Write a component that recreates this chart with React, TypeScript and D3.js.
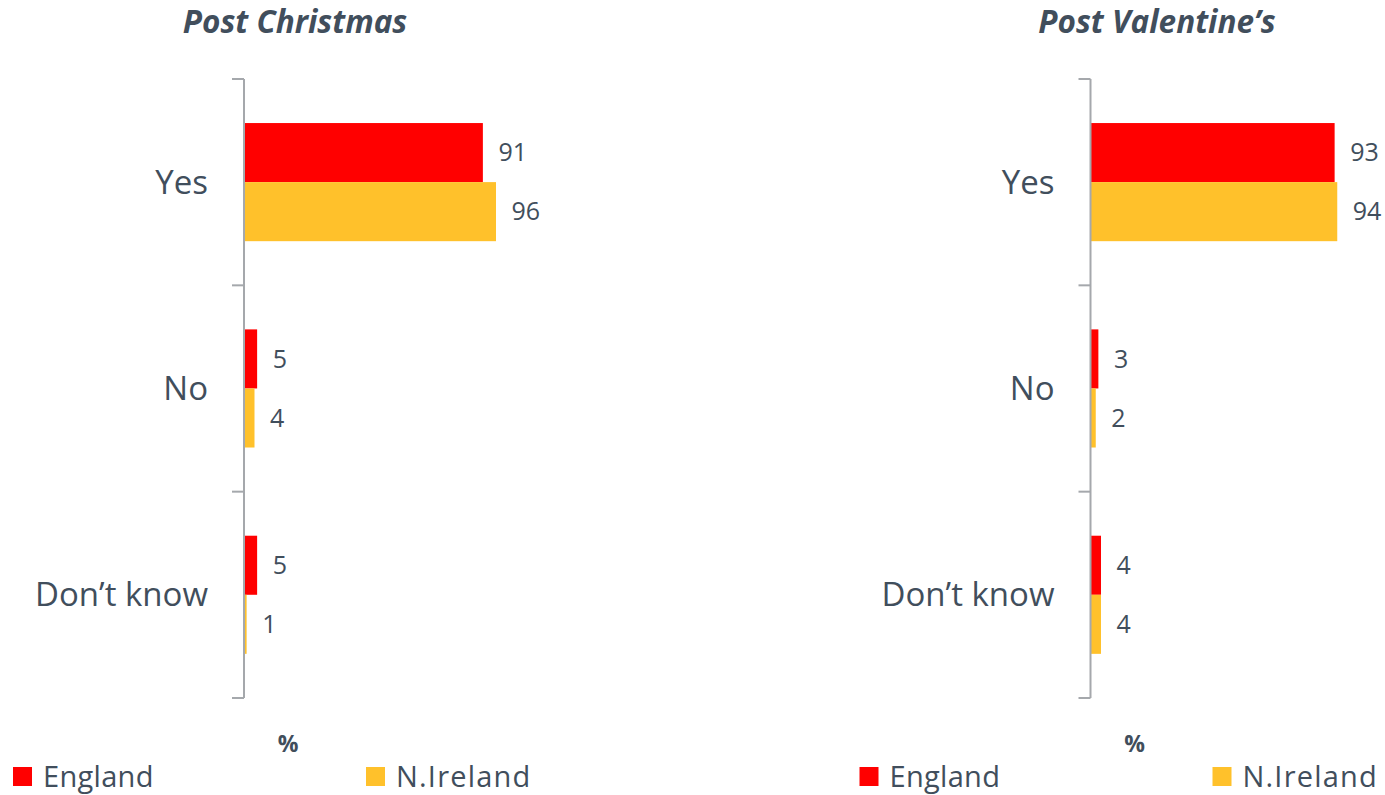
import React from "react";
import * as d3 from "d3";

const categories = ["Yes", "No", "Don’t know"];
const seriesNames = ["England", "N.Ireland"];
const christmasEngland = [91, 5, 5];
const christmasNI = [96, 4, 1];
const valentineEngland = [93, 3, 4];
const valentineNI = [94, 2, 4];
const panelTitles = ["Post Christmas", "Post Valentine’s"];
const unitLabel = "%";

const COLORS = ["#FF0000", "#FFC12B"];
const TEXT = "#414E5C";
const AXIS = "#A5A8AC";
const FONT = "'Open Sans', sans-serif";

type PanelProps = { ox: number; titleX: number; title: string; a: number[]; b: number[] };

function Panel({ ox, titleX, title, a, b }: PanelProps) {
  const axisX = ox;
  const x = d3.scaleLinear().domain([0, 100]).range([axisX, axisX + 262.5]);
  const y = d3.scaleBand<string>().domain(categories).range([79, 698]).padding(0);
  const bw = y.bandwidth();
  const inner = d3
    .scaleBand<string>()
    .domain(seriesNames)
    .range([bw * 0.2135, bw * 0.786])
    .padding(0);
  const vals = [a, b];
  const tickYs = [...categories.map((c) => y(c) as number), 698];
  return (
    <g>
      <text
        x={titleX}
        y={33}
        textAnchor="middle"
        fontFamily={FONT}
        fontWeight={700}
        fontStyle="italic"
        fontSize={31.5}
        fill={TEXT}
      >
        {title}
      </text>
      {seriesNames.map((s, si) =>
        categories.map((c, ci) => {
          const v = vals[si][ci];
          const yy = (y(c) as number) + (inner(s) as number);
          const h = inner.bandwidth();
          return (
            <g key={s + c}>
              <rect x={x(0)} y={yy} width={x(v) - x(0)} height={h} fill={COLORS[si]} />
              <text
                x={x(v) + 15.5}
                y={yy + h / 2}
                dy="0.35em"
                fontFamily={FONT}
                fontSize={25}
                fill={TEXT}
              >
                {v}
              </text>
            </g>
          );
        })
      )}
      <line x1={axisX} x2={axisX} y1={79} y2={698} stroke={AXIS} strokeWidth={2} />
      {tickYs.map((t, i) => (
        <line key={i} x1={axisX - 12} x2={axisX} y1={t} y2={t} stroke={AXIS} strokeWidth={2} />
      ))}
      {categories.map((c) => (
        <text
          key={c}
          x={axisX - 36}
          y={(y(c) as number) + bw / 2}
          dy="0.35em"
          textAnchor="end"
          fontFamily={FONT}
          fontSize={33}
          fill={TEXT}
        >
          {c}
        </text>
      ))}
      <text
        x={axisX + 44}
        y={752}
        textAnchor="middle"
        fontFamily={FONT}
        fontWeight={700}
        fontSize={23}
        fill={TEXT}
      >
        {unitLabel}
      </text>
      {seriesNames.map((s, si) => (
        <g key={s} transform={`translate(${axisX - 231 + si * 353},0)`}>
          <rect x={0} y={767} width={19} height={19} fill={COLORS[si]} />
          <text
            x={30}
            y={787}
            fontFamily={FONT}
            fontSize={29}
            letterSpacing={si === 1 ? 1.2 : 0.3}
            fill={TEXT}
          >
            {s}
          </text>
        </g>
      ))}
    </g>
  );
}

export default function App() {
  return (
    <svg
      width={1385}
      height={795}
      style={{ position: "absolute", left: 0, top: 0, background: "#fff" }}
    >
      <Panel ox={244} titleX={295} title={panelTitles[0]} a={christmasEngland} b={christmasNI} />
      <Panel ox={1090.5} titleX={1157} title={panelTitles[1]} a={valentineEngland} b={valentineNI} />
    </svg>
  );
}
